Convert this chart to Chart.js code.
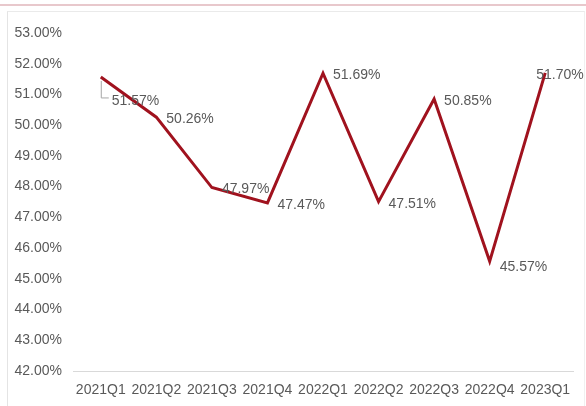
<!DOCTYPE html>
<html>
<head>
<meta charset="utf-8">
<script src="https://cdn.jsdelivr.net/npm/chart.js@4/dist/chart.umd.min.js"></script>
<style>
  html, body { margin: 0; padding: 0; background: #ffffff; }
  #wrap { position: relative; width: 586px; height: 406px; overflow: hidden; }
  #topline { position: absolute; left: 0; top: 4px; width: 586px; height: 2px; background: #e8c8cc; }
  #frame { position: absolute; left: 7px; top: 11px; width: 576px; height: 400px; border-left: 1px solid #e4e4e4; border-top: 1px solid #eaeaea; border-right: 1px solid #f0f0f0; }
  canvas { position: absolute; left: 0; top: 0; }
</style>
</head>
<body>
<div id="wrap">
  <div id="topline"></div>
  <div id="frame"></div>
  <canvas id="c" width="586" height="406"></canvas>
</div>
<script>
const categories = ['2021Q1','2021Q2','2021Q3','2021Q4','2022Q1','2022Q2','2022Q3','2022Q4','2023Q1'];
const ratioValues = [51.57, 50.26, 47.97, 47.47, 51.69, 47.51, 50.85, 45.57, 51.70];
const yTickMin = 42;
const yTickMax = 53;

const fontFamily = '"Liberation Sans", Arial, sans-serif';
const fontSize = 14;
const textColor = '#595959';

const dataLabelPlugin = {
  id: 'dataLabels',
  afterDatasetsDraw(chart) {
    const ctx = chart.ctx;
    const meta = chart.getDatasetMeta(0);
    ctx.save();
    ctx.font = fontSize + 'px ' + fontFamily;
    ctx.fillStyle = textColor;
    ctx.textAlign = 'left';
    ctx.textBaseline = 'middle';
    meta.data.forEach((pt, i) => {
      const v = chart.data.datasets[0].data[i];
      let dx = 10, dy = 2;
      if (i === 0) {
        dx = 11; dy = 24;
        ctx.strokeStyle = '#a6a6a6';
        ctx.lineWidth = 1;
        ctx.beginPath();
        ctx.moveTo(pt.x + 0.5, pt.y + 4);
        ctx.lineTo(pt.x + 0.5, pt.y + 21);
        ctx.lineTo(pt.x + 8, pt.y + 21);
        ctx.stroke();
      }
      if (i === categories.length - 1) { dx = -9; }
      if (i === 7) { dy = 6; }
      ctx.fillText(v.toFixed(2) + '%', pt.x + dx, pt.y + dy);
    });
    ctx.restore();
  }
};

new Chart(document.getElementById('c'), {
  type: 'line',
  data: {
    labels: categories,
    datasets: [{
      data: ratioValues,
      borderColor: '#a0121e',
      borderWidth: 3,
      pointRadius: 0,
      tension: 0,
      fill: false
    }]
  },
  options: {
    responsive: false,
    animation: false,
    devicePixelRatio: 1,
    layout: { padding: { top: 33, right: 13, left: 0, bottom: 0 } },
    plugins: { legend: { display: false }, tooltip: { enabled: false } },
    scales: {
      x: {
        offset: true,
        grid: { display: false, drawTicks: false },
        border: { display: true, color: '#d9d9d9', width: 1 },
        ticks: { color: textColor, font: { family: fontFamily, size: fontSize }, padding: 11, maxRotation: 0, autoSkip: false },
        afterFit(scale) { scale.height = 35; }
      },
      y: {
        min: yTickMin,
        max: yTickMax,
        grid: { display: false, drawTicks: false },
        border: { display: false },
        ticks: {
          stepSize: 1,
          color: textColor,
          font: { family: fontFamily, size: fontSize },
          padding: 11,
          callback: (v) => v.toFixed(2) + '%'
        },
        afterFit(scale) { scale.width = 73; }
      }
    }
  },
  plugins: [dataLabelPlugin]
});
</script>
</body>
</html>
